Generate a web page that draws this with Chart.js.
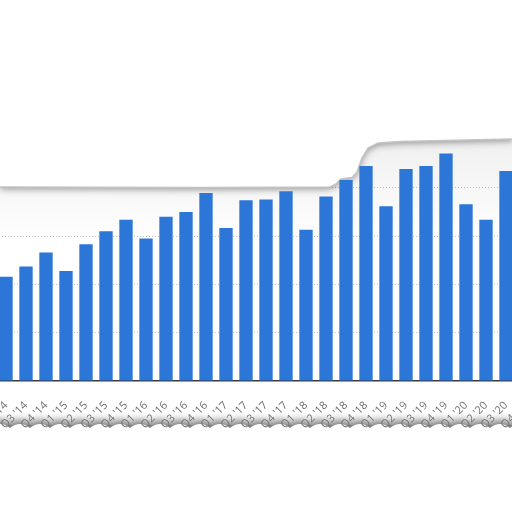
<!DOCTYPE html>
<html>
<head>
<meta charset="utf-8">
<script src="https://cdn.jsdelivr.net/npm/chart.js@4.4.1/dist/chart.umd.min.js"></script>
<style>
  html, body { margin: 0; padding: 0; background: #fff; overflow: hidden; }
  #wrap { position: absolute; left: -4px; top: 0; width: 540px; height: 512px; }
</style>
</head>
<body>
<div id="wrap"><canvas id="chart" width="540" height="512"></canvas></div>
<script>
// quarters shown in the cut-out (Q4 '20 only has its label in view)
const quarters = [
  "Q2 '14", "Q3 '14", "Q4 '14",
  "Q1 '15", "Q2 '15", "Q3 '15", "Q4 '15",
  "Q1 '16", "Q2 '16", "Q3 '16", "Q4 '16",
  "Q1 '17", "Q2 '17", "Q3 '17", "Q4 '17",
  "Q1 '18", "Q2 '18", "Q3 '18", "Q4 '18",
  "Q1 '19", "Q2 '19", "Q3 '19", "Q4 '19",
  "Q1 '20", "Q2 '20", "Q3 '20", "Q4 '20",
];

// in gridline units (one gridline = 10)
const values = [
  21.6, 23.7, 26.6,
  22.8, 28.3, 31.0, 33.4,
  29.5, 34.0, 35.0, 38.9,
  31.7, 37.4, 37.6, 39.3,
  31.3, 38.2, 41.6, 44.5,
  36.2, 43.9, 44.5, 47.1,
  36.6, 33.4, 43.5, null,
];

const yMax = 50;
const yStep = 10;

// torn paper edges, page pixels (decoration only)
const tearTop = [
  [0, 187], [200, 187.5], [330, 187], [336, 184], [341, 179], [352, 177.5],
  [357, 172], [362, 158], [368, 148], [378, 143], [400, 141.5], [512, 139],
];

const torn = {
  id: "torn",
  beforeDraw(chart) {
    const ctx = chart.ctx;
    ctx.save();
    ctx.translate(4, 0);
    // scalloped bottom edge under the labels
    ctx.beginPath();
    ctx.moveTo(-10, 512);
    ctx.lineTo(-10, 428);
    for (let x = -10; x < 530; x += 20) {
      ctx.quadraticCurveTo(x + 10, 420, x + 20, 428);
    }
    ctx.lineTo(530, 512);
    ctx.closePath();
    ctx.shadowColor = "rgba(0,0,0,0.55)";
    ctx.shadowBlur = 9;
    ctx.shadowOffsetY = -4;
    ctx.fillStyle = "#fff";
    ctx.fill();
    ctx.restore();
  },
  beforeDatasetsDraw(chart) {
    const ctx = chart.ctx;
    ctx.save();
    ctx.translate(4, 0);
    // faint grey band under the tear
    const band = ctx.createLinearGradient(0, 140, 0, 245);
    band.addColorStop(0, "rgba(0,0,0,0.06)");
    band.addColorStop(1, "rgba(0,0,0,0)");
    ctx.beginPath();
    tearTop.forEach(([x, y], i) => (i ? ctx.lineTo(x, y) : ctx.moveTo(x, y)));
    ctx.lineTo(512, 245);
    ctx.lineTo(0, 245);
    ctx.closePath();
    ctx.fillStyle = band;
    ctx.fill();
    // white paper above the tear, casting a shadow down
    ctx.beginPath();
    ctx.moveTo(-10, 0);
    tearTop.forEach(([x, y]) => ctx.lineTo(x, y));
    ctx.lineTo(530, 0);
    ctx.closePath();
    ctx.shadowColor = "rgba(0,0,0,0.4)";
    ctx.shadowBlur = 7;
    ctx.shadowOffsetY = 2;
    ctx.fillStyle = "#fff";
    ctx.fill();
    ctx.shadowColor = "transparent";
    ctx.beginPath();
    tearTop.forEach(([x, y], i) => (i ? ctx.lineTo(x, y) : ctx.moveTo(x, y)));
    ctx.strokeStyle = "#c4c4c4";
    ctx.lineWidth = 1.5;
    ctx.stroke();
    ctx.restore();
  },
};

new Chart(document.getElementById("chart"), {
  type: "bar",
  data: {
    labels: quarters,
    datasets: [{
      data: values,
      backgroundColor: "#2b76d7",
      categoryPercentage: 1,
      barPercentage: 0.667,
    }],
  },
  options: {
    responsive: false,
    animation: false,
    layout: { padding: { top: 139.5, left: 0, right: 0, bottom: 0 } },
    plugins: { legend: { display: false }, tooltip: { enabled: false } },
    scales: {
      x: {
        grid: { display: false },
        border: { color: "#3a3a3a", width: 1.5 },
        ticks: {
          autoSkip: false,
          minRotation: 45,
          maxRotation: 45,
          color: "#707070",
          padding: 10,
          font: { family: "'Open Sans', sans-serif", size: 11 },
        },
        afterFit(s) {
          s.height = 131;
          s.paddingLeft = 0;
          s.paddingRight = 0;
        },
      },
      y: {
        min: 0,
        max: yMax,
        ticks: { display: false, stepSize: yStep },
        border: { display: false, dash: [1, 2] },
        grid: {
          color: (c) => (c.tick.value === 0 ? "transparent" : "#c4c4c4"),
          lineWidth: 1,
          tickLength: 0,
        },
        afterFit(s) {
          s.width = 0;
          s.paddingTop = 0;
          s.paddingBottom = 0;
        },
      },
    },
  },
  plugins: [torn],
});
</script>
</body>
</html>
